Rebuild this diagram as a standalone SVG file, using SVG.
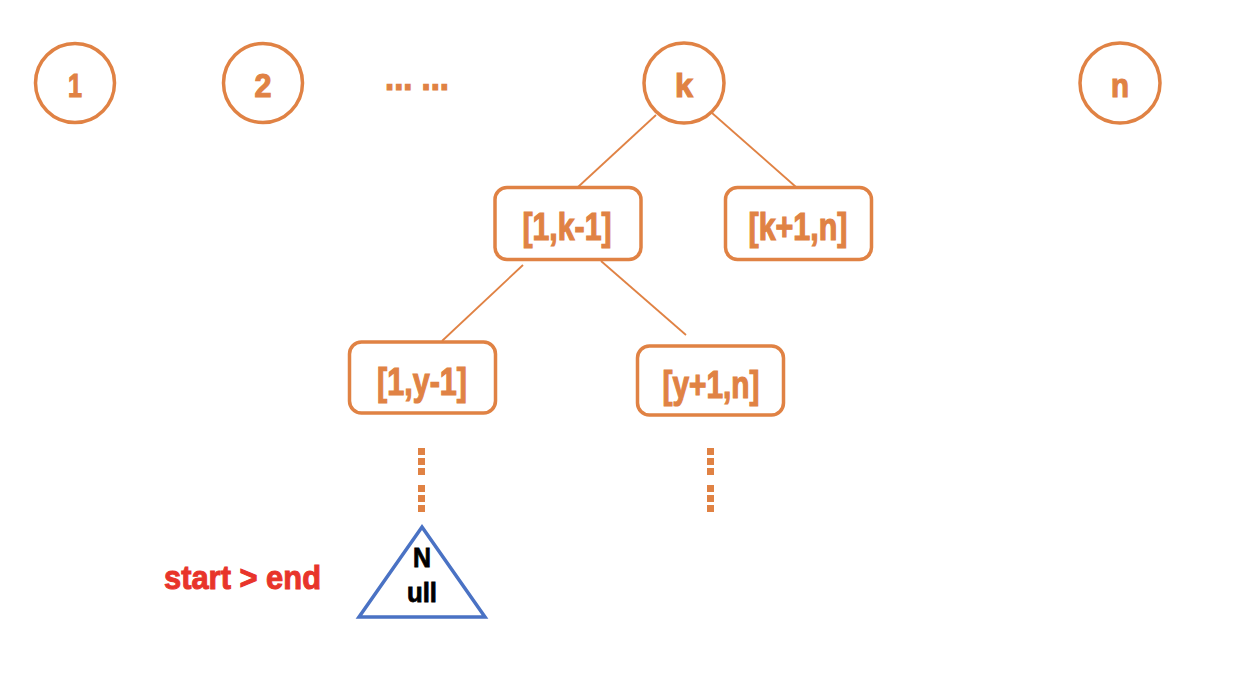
<svg xmlns="http://www.w3.org/2000/svg" width="1248" height="674" viewBox="0 0 1248 674">
<style>
.c{fill:#fff;stroke:#E08244;stroke-width:3.5}
.b{fill:#fff;stroke:#E08244;stroke-width:3.5}
.t{font-family:"Liberation Sans",Arial,sans-serif;font-weight:bold;fill:#E08244;stroke:#E08244;stroke-width:1.2;text-anchor:middle}
.k{font-family:"Liberation Sans",Arial,sans-serif;font-weight:bold;fill:#000;stroke:#000;stroke-width:0.8;text-anchor:middle}
.e{stroke:#E08244;stroke-width:1.8;fill:none}
.d{stroke:#E08244;stroke-width:7;stroke-dasharray:7 3;fill:none}
</style>
<rect width="1248" height="674" fill="#fff"/>
<g id="connectors">
<line class="e" x1="656" y1="115" x2="578" y2="187"/>
<line class="e" x1="712" y1="113" x2="796" y2="187"/>
<line class="e" x1="523" y1="265" x2="442" y2="341"/>
<line class="e" x1="601" y1="261" x2="686" y2="335"/>
<path class="d" d="M421.5 448v27M421.5 485v27"/>
<path class="d" d="M710.5 448v27M710.5 485v27"/>
</g>
<g id="n1"><circle class="c" cx="75" cy="83" r="39.5"/><text class="t" x="75" y="97" font-size="34" textLength="14" lengthAdjust="spacingAndGlyphs">1</text></g>
<g id="n2"><circle class="c" cx="263" cy="83" r="39.5"/><text class="t" x="263" y="97" font-size="34" textLength="17" lengthAdjust="spacingAndGlyphs">2</text></g>
<g id="dots"><text class="t" x="417" y="90" font-size="36" textLength="64" lengthAdjust="spacingAndGlyphs">... ...</text></g>
<g id="nk"><circle class="c" cx="684" cy="83" r="40"/><text class="t" x="684" y="97" font-size="34" textLength="18" lengthAdjust="spacingAndGlyphs">k</text></g>
<g id="nn"><circle class="c" cx="1120" cy="83" r="40"/><text class="t" x="1120" y="97" font-size="34" textLength="18" lengthAdjust="spacingAndGlyphs">n</text></g>
<g id="b1"><rect class="b" x="495" y="187.5" width="146" height="72" rx="12"/><text class="t" x="567" y="240" font-size="38" textLength="89" lengthAdjust="spacingAndGlyphs">[1,k-1]</text></g>
<g id="b2"><rect class="b" x="725.5" y="187.5" width="146" height="72" rx="12"/><text class="t" x="798" y="240" font-size="38" textLength="99" lengthAdjust="spacingAndGlyphs">[k+1,n]</text></g>
<g id="b3"><rect class="b" x="349.5" y="342" width="146" height="71" rx="12"/><text class="t" x="422" y="395" font-size="38" textLength="90" lengthAdjust="spacingAndGlyphs">[1,y-1]</text></g>
<g id="b4"><rect class="b" x="637.5" y="346" width="146" height="69" rx="12"/><text class="t" x="711" y="398" font-size="38" textLength="97" lengthAdjust="spacingAndGlyphs">[y+1,n]</text></g>
<g id="null"><polygon points="422,527 485,617 359,617" fill="#fff" stroke="#4A72C4" stroke-width="3.5"/>
<text class="k" x="422" y="567" font-size="27" textLength="18" lengthAdjust="spacingAndGlyphs">N</text>
<text class="k" x="422" y="602" font-size="27" textLength="30" lengthAdjust="spacingAndGlyphs">ull</text></g>
<g id="cond"><text x="164" y="589" font-family="'Liberation Sans',Arial,sans-serif" font-weight="bold" font-size="34" fill="#E8342A" stroke="#E8342A" stroke-width="1" textLength="157" lengthAdjust="spacingAndGlyphs">start &gt; end</text></g>
</svg>
